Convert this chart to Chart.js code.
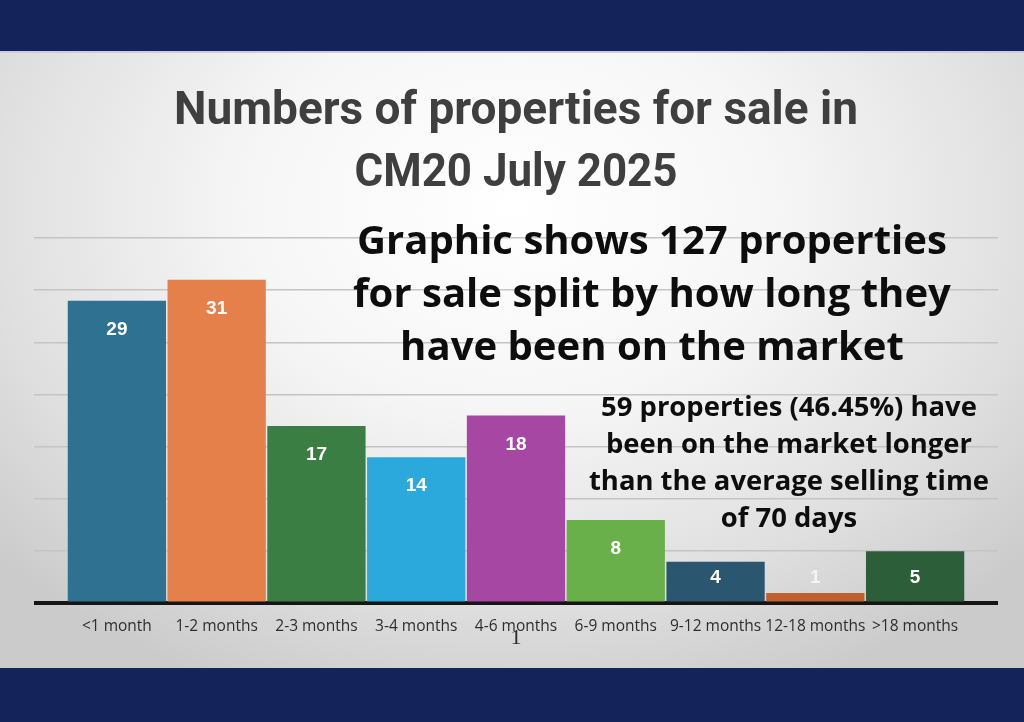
<!DOCTYPE html>
<html>
<head>
<meta charset="utf-8">
<script src="https://cdn.jsdelivr.net/npm/chart.js@4.4.1/dist/chart.umd.min.js"></script>
<style>
  html, body { margin:0; padding:0; width:1024px; height:722px; overflow:hidden; background:#14245a; }
  #panel { position:absolute; left:0; top:53px; width:1024px; height:615px;
    background: radial-gradient(ellipse 68% 85% at 50% 25%, #ffffff 0%, #f6f6f6 38%, #e0e0e0 74%, #cbcbcb 100%); }
  #sep { position:absolute; left:0; top:51px; width:1024px; height:2px; background:#c9ced8; }
  #chartBox { position:absolute; left:0; top:53px; width:1024px; height:615px; }
  .txt { position:absolute; white-space:nowrap; line-height:1; }
</style>
</head>
<body>
<div id="sep"></div>
<div id="panel"></div>
<div id="chartBox"><canvas id="months_chart" width="1024" height="615"></canvas></div>
<script>
// data
var categories = ['<1 month', '1-2 months', '2-3 months', '3-4 months', '4-6 months',
                  '6-9 months', '9-12 months', '12-18 months', '>18 months'];
var counts = [29, 31, 17, 14, 18, 8, 4, 1, 5];
var barColors = ['#2e7191', '#e5804a', '#3a7e44', '#2ba8dc', '#a647a3',
                 '#6ab04a', '#2b5670', '#c0602e', '#2d5e3a'];
var yMax = 35;
var yStep = 5;

var titleLines = ['Numbers of properties for sale in', 'CM20 July 2025'];
var noteLines = ['Graphic shows 127 properties', 'for sale split by how long they', 'have been on the market'];
var avgLines = ['59 properties (46.45%) have', 'been on the market longer',
                'than the average selling time', 'of 70 days'];

/////////////////////////////////////////////////////////

// text line centred at (cx, cy); squeeze horizontally to width w if given
function addLine(text, cx, cy, font, color, w) {
    var el = document.createElement('div');
    el.className = 'txt';
    el.textContent = text;
    el.style.font = font;
    el.style.lineHeight = '1';
    el.style.color = color;
    document.body.appendChild(el);
    var sx = 1;
    if (w) sx = w / el.getBoundingClientRect().width;
    el.style.left = cx + 'px';
    el.style.top = cy + 'px';
    el.style.transform = 'translate(-50%, -50%) scaleX(' + sx + ')';
    return el;
}

// a block of lines with one font size, sized so the first line is w wide
function addBlock(lines, cx, cys, weight, family, color, w) {
    var probe = document.createElement('div');
    probe.className = 'txt';
    probe.style.font = weight + ' 100px ' + family;
    probe.textContent = lines[0];
    document.body.appendChild(probe);
    var size = 100 * w / probe.getBoundingClientRect().width;
    probe.remove();
    lines.forEach(function(t, i) {
        addLine(t, cx, cys[i], weight + ' ' + size.toFixed(2) + 'px ' + family, color);
    });
}

addLine(titleLines[0], 516, 108, '700 46px Roboto', '#3f3f3f', 684);
addLine(titleLines[1], 516, 170, '700 46px Roboto', '#3f3f3f', 323);
addBlock(noteLines, 652, [239, 292, 345], '700', '"Open Sans"', '#0d0d0d', 590);
addBlock(avgLines, 789, [406, 443, 480, 517], '700', '"Open Sans"', '#0d0d0d', 376);
addLine('1', 516, 637, '22px "Liberation Serif"', '#2a2a2a');

var valueLabels = {
    id: 'valueLabels',
    afterDatasetsDraw: function(chart) {
        var ctx = chart.ctx;
        var floor = chart.scales.y.getPixelForValue(2.5);
        chart.getDatasetMeta(0).data.forEach(function(bar, i) {
            ctx.save();
            ctx.font = 'bold 19px "Liberation Sans", Arial, sans-serif';
            ctx.fillStyle = counts[i] < 2 ? '#f4f4f4' : '#ffffff';
            ctx.textAlign = 'center';
            ctx.textBaseline = 'middle';
            ctx.fillText(String(counts[i]), bar.x, Math.min(bar.y + 29, floor));
            ctx.restore();
        });
    }
};

var gridColor = function(c) { return c.tick && c.tick.value === 0 ? '#151515' : '#c4c4c4'; };
var gridWidth = function(c) { return c.tick && c.tick.value === 0 ? 4 : 1.5; };

var chartOptions = {
    responsive: false,
    animation: false,
    layout: { padding: { top: 185, left: 34, right: 26, bottom: 18 } },
    plugins: {
        legend: { display: false },
        tooltip: { enabled: false }
    },
    scales: {
        x: {
            grid: { display: false, drawTicks: false },
            border: { display: false },
            ticks: {
                color: '#2e2e2e',
                font: { family: 'Open Sans', size: 15.5 },
                padding: 14,
                maxRotation: 0,
                autoSkip: false
            }
        },
        y: {
            position: 'left',
            min: 0,
            max: yMax,
            ticks: { stepSize: yStep, display: false },
            border: { display: false },
            grid: { color: gridColor, lineWidth: gridWidth, tickLength: 33 }
        },
        y2: {
            position: 'right',
            min: 0,
            max: yMax,
            ticks: { stepSize: yStep, display: false },
            border: { display: false },
            grid: { drawOnChartArea: false, color: gridColor, lineWidth: gridWidth, tickLength: 33 }
        }
    }
};

var barChart = new Chart(document.getElementById('months_chart'), {
    type: 'bar',
    data: {
        labels: categories,
        datasets: [{
            data: counts,
            backgroundColor: barColors,
            borderWidth: 0,
            categoryPercentage: 0.985,
            barPercentage: 1
        }]
    },
    options: chartOptions,
    plugins: [valueLabels]
});
</script>
</body>
</html>
